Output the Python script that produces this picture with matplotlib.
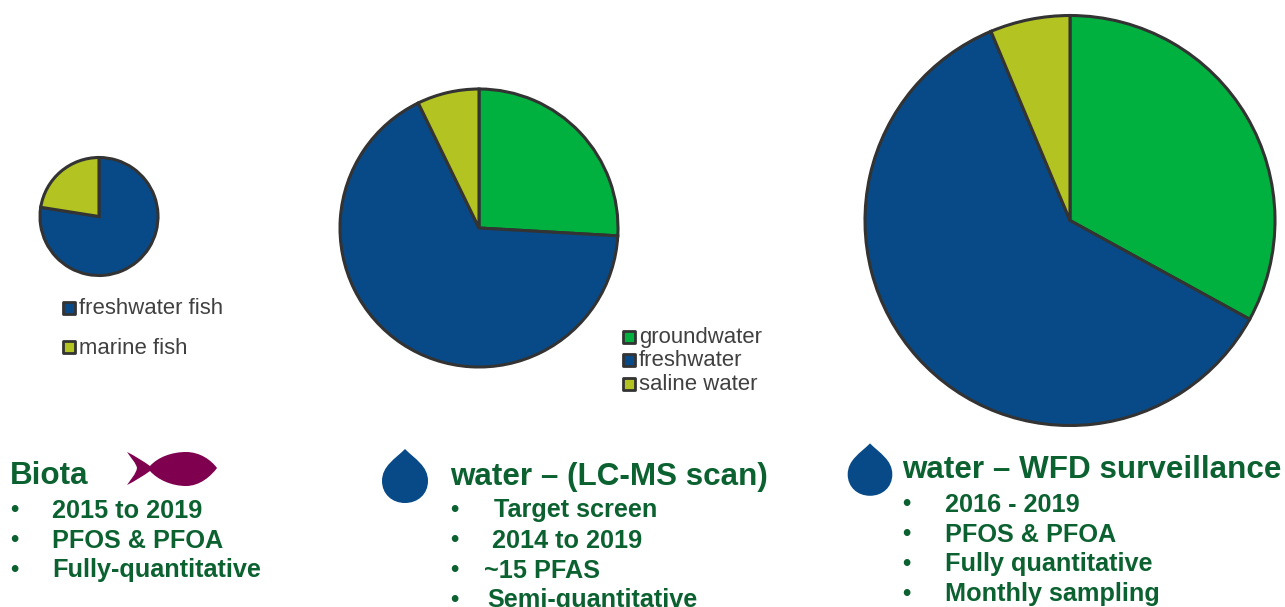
import matplotlib
matplotlib.use("Agg")
import matplotlib.pyplot as plt
from matplotlib.patches import PathPatch
from matplotlib.path import Path

BLUE = "#074a87"
GREEN = "#00b140"
OLIVE = "#b2c322"
EDGE = "#333333"
TEXT_GREEN = "#0b6130"
GREY = "#404040"

biota_labels = ["freshwater fish", "marine fish"]
biota_values = [77.5, 22.5]
biota_colors = [BLUE, OLIVE]

scan_labels = ["groundwater", "freshwater", "saline water"]
scan_values = [25.9, 66.9, 7.2]
wfd_values = [33.0, 60.7, 6.3]
water_colors = [GREEN, BLUE, OLIVE]

biota_items = ["2015 to 2019", "PFOS & PFOA", "Fully-quantitative"]
scan_items = ["Target screen", "2014 to 2019", "~15 PFAS", "Semi-quantitative"]
wfd_items = ["2016 - 2019", "PFOS & PFOA", "Fully quantitative", "Monthly sampling"]

plt.rcParams["font.family"] = ["Liberation Sans", "DejaVu Sans"]

W, H = 1285, 607
fig = plt.figure(figsize=(W / 100, H / 100), dpi=100)
ax = fig.add_axes([0, 0, 1, 1])


def Y(y):
    # picture pixels count from the top
    return H - y


def draw_pie(values, colors, cx, cy, r):
    ax.pie(values, colors=colors, startangle=90, counterclock=False,
           center=(cx, Y(cy)), radius=r, frame=True,
           wedgeprops=dict(edgecolor=EDGE, linewidth=2.2))


def draw_legend(labels, colors, x, ys, size=15.9):
    for lab, col, y in zip(labels, colors, ys):
        ax.scatter([x], [Y(y)], marker="s", s=66, color=col, edgecolor=EDGE,
                   linewidth=2.0, zorder=3)
        ax.text(x + 10, Y(y + 1), lab, fontsize=size, color=GREY, va="center", ha="left")


def draw_drop(cx, cy, s):
    verts = [(0, -30), (-10, -20), (-23, -13), (-23, 2), (-23, 15), (-13, 24), (0, 24),
             (13, 24), (23, 15), (23, 2), (23, -13), (10, -20), (0, -30)]
    codes = [Path.MOVETO] + [Path.CURVE4] * 12
    pts = [(cx + a * s, Y(cy + b * s)) for a, b in verts]
    ax.add_patch(PathPatch(Path(pts, codes), facecolor=BLUE, edgecolor="none"))


def draw_fish():
    verts = [(127, 452), (135, 456), (143, 461), (150, 466), (158, 457), (172, 452), (186, 452),
             (200, 452), (211, 460), (217, 468), (211, 476), (200, 486), (186, 486),
             (172, 486), (158, 480), (150, 471), (143, 476), (135, 481), (127, 485),
             (131, 479), (136, 474), (137, 468), (136, 463), (131, 458), (127, 452)]
    codes = [Path.MOVETO] + [Path.CURVE4] * 24
    pts = [(a, Y(b)) for a, b in verts]
    ax.add_patch(PathPatch(Path(pts, codes), facecolor="#7f004f", edgecolor="none"))


def draw_items(items, bullet_x, text_xs, ys):
    for item, tx, y in zip(items, text_xs, ys):
        ax.text(bullet_x, Y(y), "\u2022", fontsize=17, fontweight="bold", color=TEXT_GREEN,
                va="center", ha="center")
        ax.text(tx, Y(y + 1.5), item, fontsize=18.2, fontweight="bold", color=TEXT_GREEN,
                va="center", ha="left")


draw_pie(biota_values, biota_colors, 99, 216.5, 59)
draw_pie(scan_values, water_colors, 479, 228, 139)
draw_pie(wfd_values, water_colors, 1070, 220.5, 205)

draw_legend(biota_labels, biota_colors, 69, [308, 347])
draw_legend(scan_labels, water_colors, 629, [337, 360, 384])

ax.text(10, Y(476), "Biota", fontsize=22.6, fontweight="bold", color=TEXT_GREEN, va="center")
ax.text(450, Y(477), "water \u2013 (LC-MS scan)", fontsize=22.6, fontweight="bold",
        color=TEXT_GREEN, va="center")
ax.text(902, Y(470), "water \u2013 WFD surveillance", fontsize=22.6, fontweight="bold",
        color=TEXT_GREEN, va="center")

draw_items(biota_items, 14, [52, 52, 52], [509, 539, 569])
draw_items(scan_items, 454, [494, 492, 484, 487], [509, 539, 569, 599])
draw_items(wfd_items, 906, [945, 945, 945, 945], [503, 533, 563, 593])

draw_fish()
draw_drop(405, 479, 1.0)
draw_drop(870, 472.5, 0.97)

ax.set_xlim(0, W)
ax.set_ylim(0, H)
ax.axis("off")
fig.savefig("out.png", dpi=100, facecolor="white")
